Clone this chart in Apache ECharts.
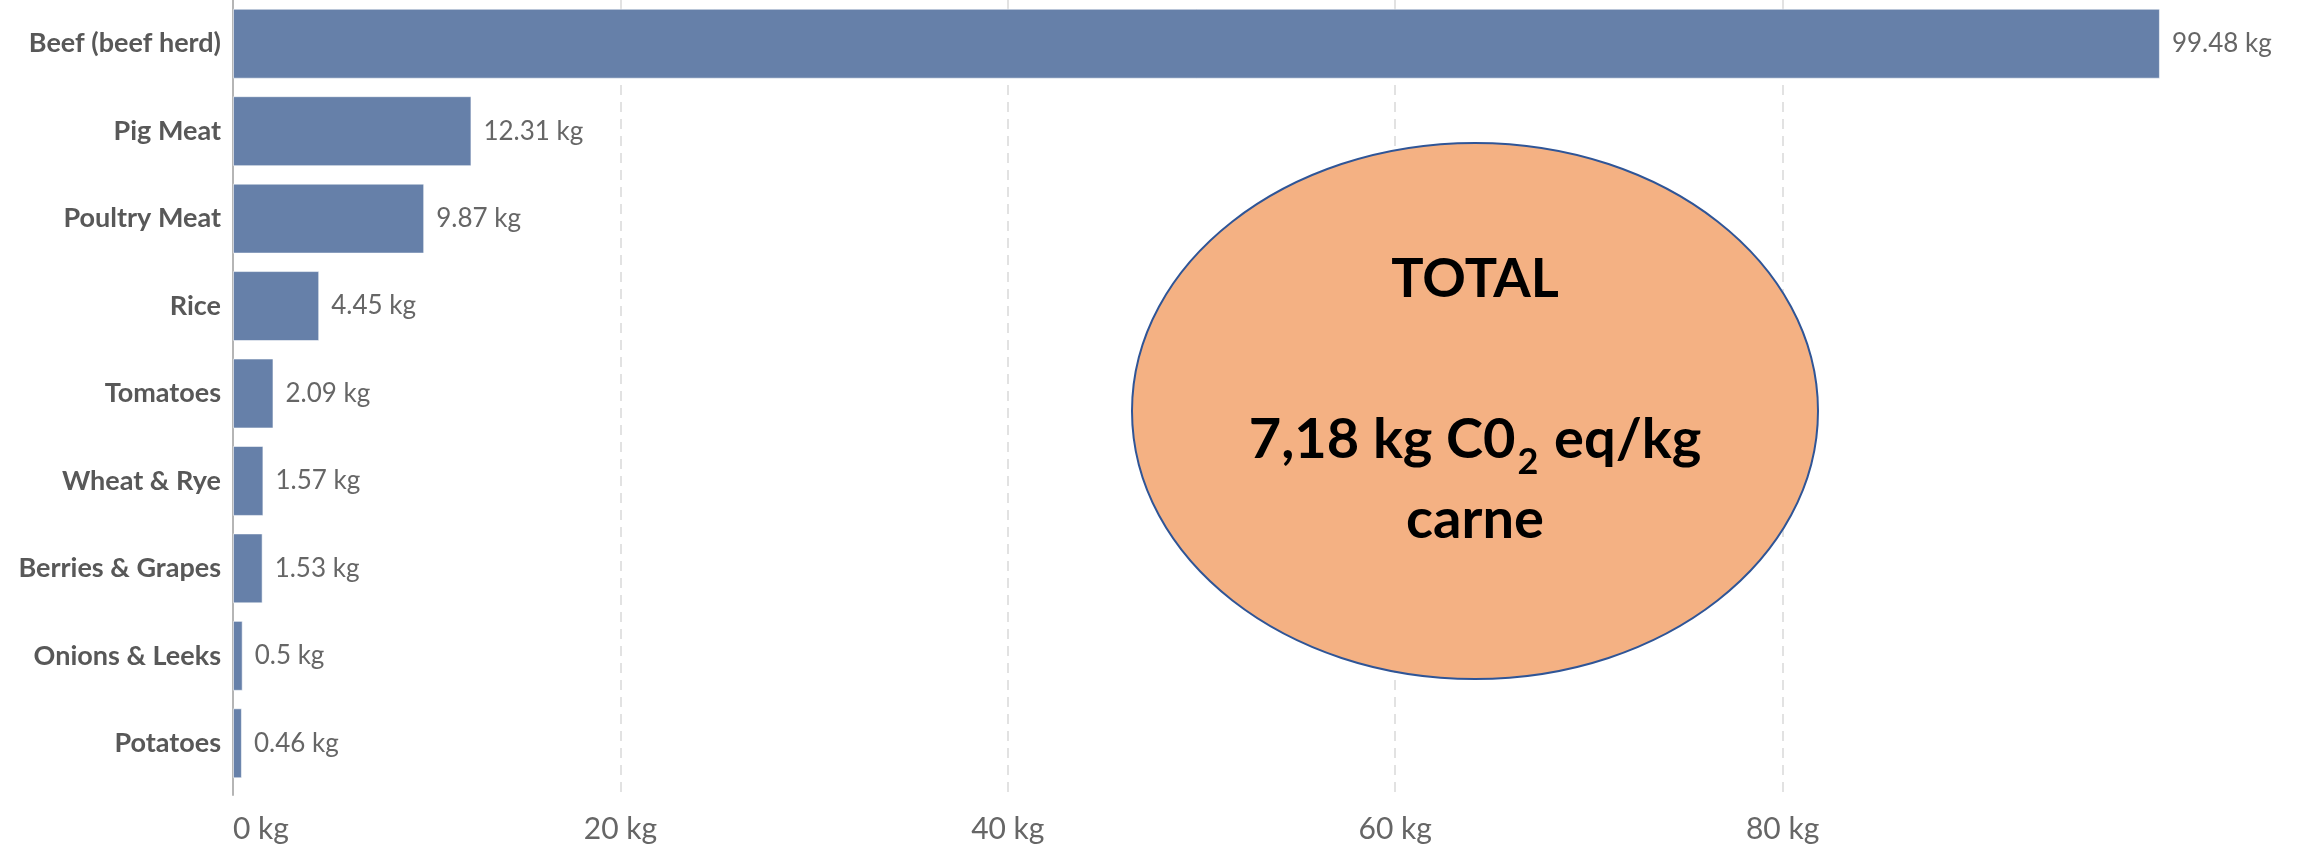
<!DOCTYPE html>
<html>
<head>
<meta charset="utf-8">
<script src="https://cdn.jsdelivr.net/npm/echarts@6/dist/echarts.min.js"></script>
<style>
  html, body { margin: 0; padding: 0; background: #fff; }
  #chart { width: 2303px; height: 848px; }
</style>
</head>
<body>
<div id="chart"></div>
<script>
// Greenhouse gas emissions per kg of food product
const categories = [
  'Beef (beef herd)', 'Pig Meat', 'Poultry Meat', 'Rice', 'Tomatoes',
  'Wheat & Rye', 'Berries & Grapes', 'Onions & Leeks', 'Potatoes'
];
const emissions = [99.48, 12.31, 9.87, 4.45, 2.09, 1.57, 1.53, 0.5, 0.46];
const axisTicks = [0, 20, 40, 60, 80, 100];
const unit = 'kg';

const xMin = axisTicks[0];
const xMax = axisTicks[axisTicks.length - 1];
const xStep = axisTicks[1] - axisTicks[0];

const chart = echarts.init(document.getElementById('chart'), null, { renderer: 'canvas' });

chart.setOption({
  animation: false,
  backgroundColor: '#ffffff',
  grid: [
    // bars
    { left: 233, right: 133, top: 0, bottom: 61, containLabel: false },
    // grid lines and the vertical axis line, running a little below the bars
    { left: 233, right: 133, top: 0, bottom: 53, containLabel: false }
  ],
  xAxis: [
    {
      gridIndex: 0,
      type: 'value',
      min: xMin, max: xMax, interval: xStep,
      axisLine: { show: false },
      axisTick: { show: false },
      splitLine: { show: false },
      axisLabel: {
        showMaxLabel: false,
        alignMinLabel: 'left',
        margin: 27,
        color: '#666666',
        fontFamily: 'Lato',
        fontSize: 30,
        formatter: v => v + ' ' + unit
      }
    },
    {
      gridIndex: 1,
      type: 'value',
      min: xMin, max: xMax, interval: xStep,
      axisLine: { show: false },
      axisTick: { show: false },
      axisLabel: { show: false },
      splitLine: {
        show: true,
        showMinLine: false,
        showMaxLine: false,
        lineStyle: { color: '#d9d9d9', width: 1.5, type: [10, 7] }
      }
    }
  ],
  yAxis: [
    {
      gridIndex: 0,
      type: 'category',
      data: categories,
      inverse: true,
      axisLine: { show: false },
      axisTick: { show: false },
      splitLine: { show: false },
      axisLabel: {
        margin: 12,
        color: '#585858',
        fontFamily: 'Lato',
        fontWeight: 'bold',
        fontSize: 27
      }
    },
    {
      gridIndex: 1,
      type: 'value',
      min: 0, max: 1,
      axisLine: { show: true, lineStyle: { color: '#b5b5b5', width: 2 } },
      axisTick: { show: false },
      axisLabel: { show: false },
      splitLine: { show: false }
    }
  ],
  series: [{
    type: 'bar',
    xAxisIndex: 0,
    yAxisIndex: 0,
    data: emissions,
    barCategoryGap: '20%',
    itemStyle: {
      color: '#6680a9',
      borderColor: 'rgba(255,255,255,0.55)',
      borderWidth: 1
    },
    label: {
      show: true,
      position: 'right',
      distance: 12,
      color: '#666666',
      fontFamily: 'Lato',
      fontSize: 26,
      formatter: p => p.value + ' ' + unit
    },
    z: 3
  }],
  graphic: [
    {
      type: 'ellipse',
      shape: { cx: 1475, cy: 411, rx: 343, ry: 268 },
      style: { fill: '#f4b183', stroke: '#2f5597', lineWidth: 2 },
      z: 10
    },
    {
      type: 'text',
      x: 1475,
      y: 400,
      z: 11,
      style: {
        text: '{t|TOTAL}\n{b| }\n{b|7,18 kg C0}{s|2}{b| eq/kg}\n{b|carne}',
        align: 'center',
        verticalAlign: 'middle',
        rich: {
          t: {
            fontFamily: 'Lato',
            fontWeight: 'bold',
            fontSize: 54,
            lineHeight: 80,
            fill: '#000000',
            verticalAlign: 'middle'
          },
          b: {
            fontFamily: 'Lato',
            fontWeight: 'bold',
            fontSize: 56,
            lineHeight: 80,
            fill: '#000000',
            verticalAlign: 'middle'
          },
          s: {
            fontFamily: 'Lato',
            fontWeight: 'bold',
            fontSize: 36,
            lineHeight: 36,
            fill: '#000000',
            verticalAlign: 'bottom',
            padding: [0, 2, 0, 2]
          }
        }
      }
    }
  ]
});
</script>
</body>
</html>
